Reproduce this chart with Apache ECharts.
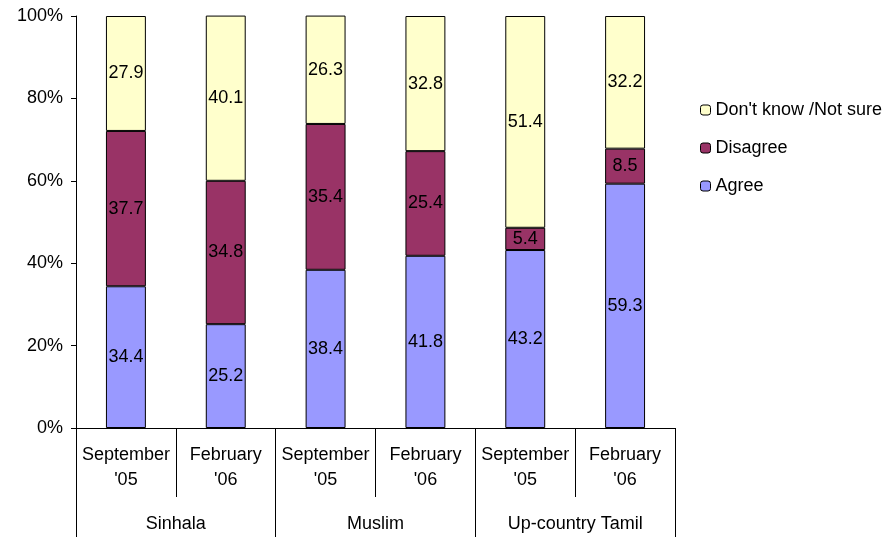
<!DOCTYPE html>
<html><head><meta charset="utf-8">
<script src="https://cdn.jsdelivr.net/npm/echarts@6/dist/echarts.min.js"></script>
<style>html,body{margin:0;padding:0;background:#fff}#c{width:895px;height:537px}</style>
</head><body><div id="c"></div>
<script>
const periods = ["September\n'05","February\n'06","September\n'05","February\n'06","September\n'05","February\n'06"];
const groups = ["Sinhala","Muslim","Up-country Tamil"];
const agree = [34.4,25.2,38.4,41.8,43.2,59.3];
const disagree = [37.7,34.8,35.4,25.4,5.4,8.5];
const dontKnow = [27.9,40.1,26.3,32.8,51.4,32.2];
const yTicks = [0,20,40,60,80,100];

const font = 'Liberation Sans, Arial, sans-serif';
const fs = 18;
const chart = echarts.init(document.getElementById('c'), null, {renderer:'canvas'});
const lbl = {show:true, position:'inside', color:'#000', fontSize:fs, fontFamily:font, formatter:p=>p.value.toFixed(1)};
const mk = (name, data, color) => ({
  name, type:'bar', stack:'s', data, barWidth:'40%', label:lbl,
  itemStyle:{color, borderColor:'#000', borderWidth:1}, animation:false
});
chart.setOption({
  animation:false,
  textStyle:{fontFamily:font},
  grid:{left:76, right:220, top:16, bottom:109, containLabel:false},
  legend:{
    orient:'vertical', left:695, top:96, itemWidth:10, itemHeight:10, itemGap:20,
    data:["Don't know /Not sure","Disagree","Agree"],
    textStyle:{fontSize:fs, color:'#000', fontFamily:font},
    itemStyle:{borderColor:'#000', borderWidth:1}
  },
  xAxis:[
    {type:'category', data:periods, position:'bottom', boundaryGap:true,
     axisLine:{show:true, lineStyle:{color:'#000', width:1}},
     axisTick:{show:true, length:69, alignWithLabel:false, lineStyle:{color:'#000'}},
     axisLabel:{interval:0, margin:15, fontSize:fs, lineHeight:25, color:'#000', fontFamily:font}},
    {type:'category', data:groups, position:'bottom', boundaryGap:true, gridIndex:0,
     axisLine:{show:false},
     axisTick:{show:true, length:109, alignWithLabel:false, lineStyle:{color:'#000'}},
     axisLabel:{interval:0, margin:86, fontSize:fs, lineHeight:20, color:'#000', fontFamily:font}}
  ],
  yAxis:{type:'value', min:0, max:100, interval:20,
    axisLine:{show:true, lineStyle:{color:'#000'}},
    axisTick:{show:true, length:5, lineStyle:{color:'#000'}},
    splitLine:{show:false},
    axisLabel:{formatter:v=>yTicks.includes(v)?v+'%':'', fontSize:fs, color:'#000', fontFamily:font, margin:13}},
  series:[
    mk('Agree', agree, '#9999FF'),
    mk('Disagree', disagree, '#993366'),
    mk("Don't know /Not sure", dontKnow, '#FFFFCC')
  ]
});
</script></body></html>
